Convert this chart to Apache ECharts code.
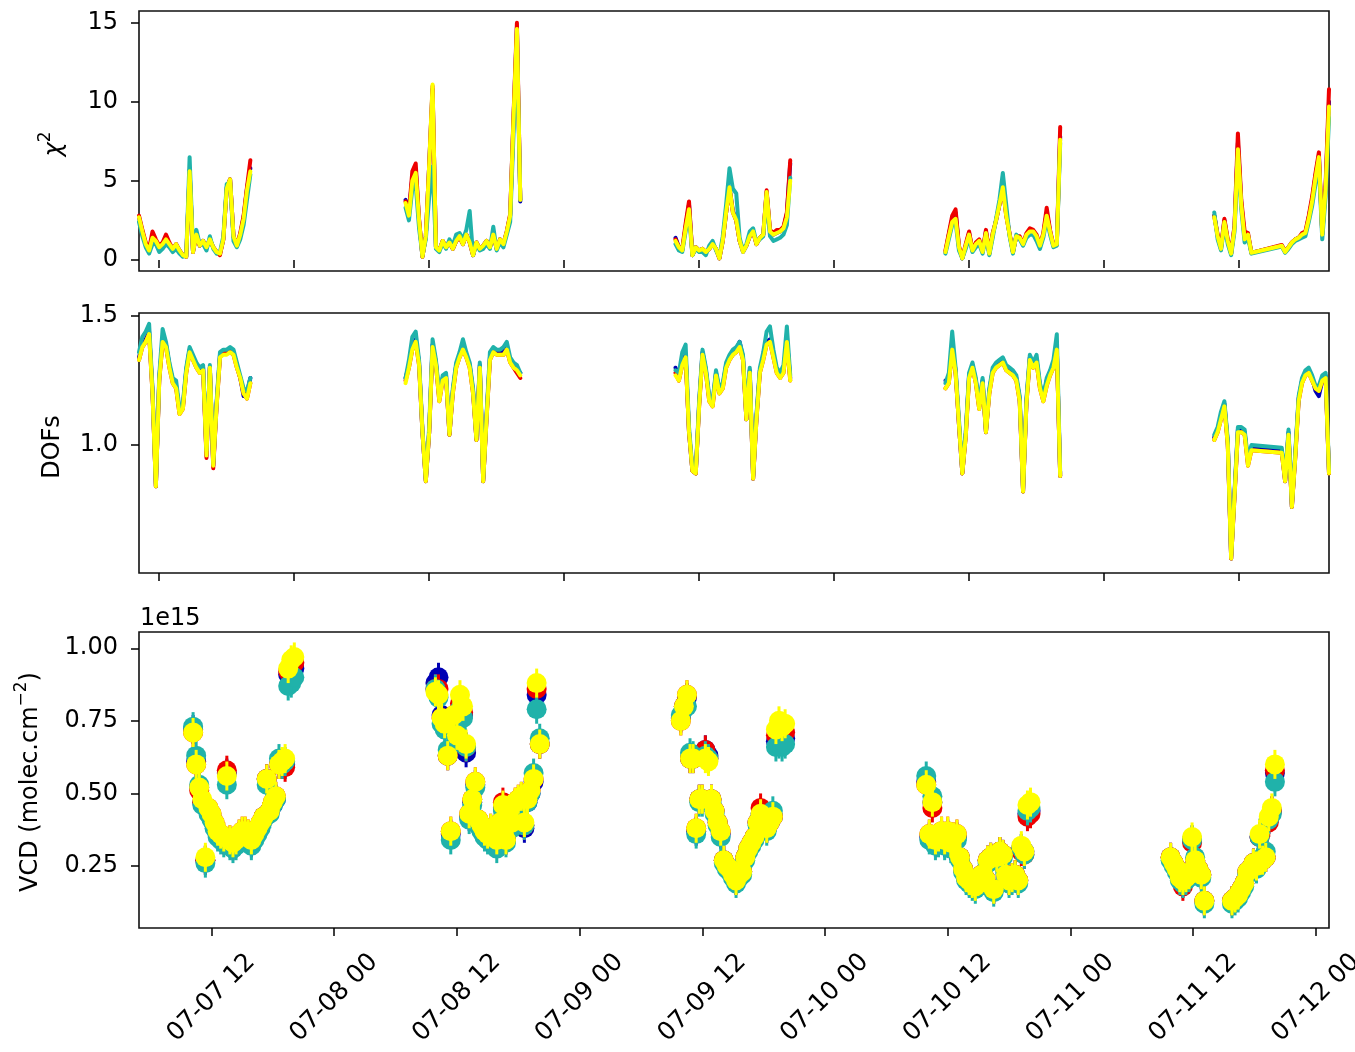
<!DOCTYPE html>
<html>
<head>
<meta charset="utf-8">
<script src="https://cdn.jsdelivr.net/npm/echarts@6/dist/echarts.min.js"></script>
<style>html,body{margin:0;padding:0;background:#fff}#c{width:1355px;height:1052px}</style>
</head>
<body>
<div id="c"></div>
<script>
// time of each retrieval, hours since 07-07 00:00
const times = [
  10.2,10.5,10.8,11.1,11.4,11.7,12.0,12.3,12.6,12.9,13.2,13.5,13.8,14.1,14.4,14.7,15.0,15.3,15.6,15.9,16.2,16.5,16.8,17.1,17.4,17.7,18.0,18.3,18.6,18.9,19.2,19.5,19.8,20.1,
  33.9,34.2,34.5,34.8,35.1,35.4,35.7,36.0,36.3,36.6,36.9,37.2,37.5,37.8,38.1,38.4,38.7,39.0,39.3,39.6,39.9,40.2,40.5,40.8,41.1,41.4,41.7,42.0,42.3,42.6,42.9,43.2,43.5,43.8,44.1,
  57.9,58.2,58.5,58.8,59.1,59.4,59.7,60.0,60.3,60.6,60.9,61.2,61.5,61.8,62.1,62.4,62.7,63.0,63.3,63.6,63.9,64.2,64.5,64.8,65.1,65.4,65.7,66.0,66.3,66.6,66.9,67.2,67.5,67.8,68.1,
  81.9,82.2,82.5,82.8,83.1,83.4,83.7,84.0,84.3,84.6,84.9,85.2,85.5,85.8,86.1,86.4,86.7,87.0,87.3,87.6,87.9,88.2,88.5,88.8,89.1,89.4,89.7,90.0,90.3,90.6,90.9,91.2,91.5,91.8,92.1,
  105.8,106.1,106.4,106.7,107.0,107.3,107.6,107.9,108.2,108.5,108.8,109.1,111.8,112.1,112.4,112.7,113.0,113.3,113.6,113.9,114.2,114.5,114.8,115.1,115.4,115.7,116.0
];

// chi-square
const chiBlue = [
  2.7,1.8,1.0,0.6,1.5,1.2,0.8,1.0,1.4,1.0,0.7,1.0,0.6,0.3,0.2,5.7,0.5,1.7,0.9,1.2,0.8,1.3,0.8,0.5,0.4,1.3,4.6,5.1,1.5,0.9,1.6,2.7,4.5,5.8,
  3.8,3.0,5.2,5.7,2.5,0.2,1.5,6.0,10.8,0.8,0.6,1.2,0.8,1.1,0.7,1.2,1.6,1.0,1.6,1.1,0.3,1.1,0.7,0.9,1.2,0.8,1.6,0.7,1.3,1.0,1.8,2.8,9.0,14.7,3.7,
  1.4,0.8,0.6,2.1,3.5,0.3,0.8,0.6,0.7,0.5,0.7,1.0,0.7,0.1,1.2,3.0,4.6,3.1,2.5,1.2,0.5,0.9,1.5,1.8,1.0,1.4,1.6,4.3,1.8,1.6,1.7,1.8,2.0,2.9,6.1,
  0.5,1.6,2.6,3.0,0.8,0.1,0.9,1.7,0.6,1.0,1.2,0.5,1.8,0.4,1.6,2.5,3.5,4.6,2.9,1.6,0.5,1.5,1.4,1.0,1.6,1.9,1.8,1.5,0.9,1.6,3.0,1.8,0.9,1.0,7.8,
  2.8,1.5,0.7,2.5,1.2,0.4,2.1,7.4,3.6,1.4,1.6,0.45,0.9,0.5,0.8,1.1,1.3,1.4,1.6,1.7,2.7,3.8,5.3,6.6,1.6,4.6,10.0
];
const chiRed = [
  2.8,1.9,1.1,0.7,1.8,1.3,0.9,1.1,1.6,1.1,0.7,1.0,0.6,0.3,0.2,5.5,0.5,1.6,0.9,1.2,0.8,1.3,0.8,0.5,0.3,1.3,4.5,5.1,1.5,0.9,1.7,2.8,4.6,6.3,
  3.7,3.0,5.6,6.1,2.6,0.2,1.5,6.0,11.0,0.8,0.6,1.2,0.8,1.1,0.7,1.2,1.4,1.0,1.6,1.1,0.3,1.1,0.7,0.9,1.2,0.8,1.6,0.7,1.3,1.0,1.8,2.9,9.2,15.0,3.8,
  1.3,0.8,0.7,2.3,3.7,0.3,0.8,0.6,0.7,0.5,0.7,1.0,0.7,0.1,1.2,3.0,4.5,3.0,2.5,1.2,0.6,0.9,1.5,1.8,1.0,1.4,1.6,4.4,1.9,1.7,1.9,1.9,2.1,3.0,6.3,
  0.6,1.7,2.8,3.2,0.9,0.1,1.0,1.8,0.6,1.1,1.3,0.5,1.9,0.4,1.7,2.5,3.5,4.6,2.8,1.7,0.5,1.5,1.5,1.0,1.7,2.0,1.9,1.6,0.9,1.7,3.3,1.9,0.9,1.0,8.4,
  2.8,1.6,0.8,2.6,1.3,0.4,2.2,8.0,3.8,1.8,1.7,0.45,0.95,0.55,0.8,1.1,1.3,1.4,1.7,1.8,2.8,4.0,5.5,6.8,1.7,4.8,10.8
];
const chiTeal = [
  2.4,1.5,0.8,0.4,1.0,1.0,0.5,0.7,1.0,0.8,0.5,0.7,0.4,0.2,0.3,6.5,0.6,1.9,1.0,1.0,0.6,1.5,0.7,0.4,0.5,1.5,4.8,4.9,1.2,0.8,1.3,2.2,3.8,5.4,
  3.3,2.5,4.5,4.8,2.0,0.3,1.3,4.0,5.9,0.7,0.5,1.1,0.7,1.3,0.9,1.6,1.7,1.3,1.9,3.1,0.3,1.0,0.6,0.7,1.0,0.7,2.1,0.6,1.1,0.8,1.6,2.4,8.0,13.5,3.8,
  1.0,0.6,0.5,1.8,2.9,0.3,0.7,0.5,0.5,0.3,0.9,1.2,0.6,0.2,1.5,3.5,5.8,4.5,4.2,1.4,0.6,1.0,1.8,2.0,1.1,1.3,1.5,4.0,1.5,1.2,1.3,1.4,1.6,2.2,5.2,
  0.4,1.3,2.2,2.4,0.6,0.1,0.7,1.4,0.5,0.8,1.0,0.4,1.5,0.3,1.4,2.6,3.8,5.5,3.5,1.5,0.4,1.6,1.3,0.9,1.4,1.6,1.6,1.2,0.7,1.4,2.6,1.6,0.8,0.9,7.4,
  3.0,1.3,0.6,2.2,1.0,0.3,1.8,6.6,3.2,1.1,1.4,0.4,0.85,0.45,0.7,1.0,1.2,1.3,1.4,1.5,2.4,3.4,4.8,6.0,1.3,4.0,9.0
];
const chiYellow = [
  2.7,1.8,1.0,0.6,1.4,1.2,0.8,1.0,1.3,1.0,0.7,1.0,0.6,0.3,0.2,5.6,0.5,1.6,0.9,1.2,0.8,1.3,0.8,0.5,0.4,1.3,4.5,5.1,1.5,0.9,1.6,2.6,4.4,5.6,
  3.6,2.8,5.0,5.5,2.5,0.2,1.5,6.0,11.1,0.8,0.6,1.2,0.8,1.1,0.7,1.2,1.5,1.0,1.6,1.1,0.3,1.1,0.7,0.9,1.2,0.8,1.6,0.7,1.3,1.0,1.8,2.8,9.0,14.6,3.8,
  1.2,0.8,0.6,2.0,3.2,0.3,0.8,0.6,0.7,0.5,0.7,1.0,0.7,0.1,1.2,3.0,4.6,3.0,2.5,1.2,0.5,0.9,1.5,1.8,1.0,1.4,1.6,4.3,1.8,1.6,1.7,1.8,2.0,2.7,5.0,
  0.5,1.5,2.4,2.6,0.8,0.1,0.9,1.6,0.6,1.0,1.2,0.5,1.7,0.4,1.6,2.5,3.5,4.6,2.8,1.6,0.5,1.5,1.4,1.0,1.6,1.8,1.8,1.5,0.9,1.6,2.8,1.8,0.9,1.0,7.6,
  2.7,1.5,0.7,2.4,1.2,0.4,2.0,7.0,3.5,1.3,1.6,0.45,0.9,0.5,0.8,1.1,1.3,1.4,1.6,1.7,2.6,3.7,5.2,6.5,1.6,4.5,9.7
];

// degrees of freedom
const dofBlue = [
  1.34,1.39,1.41,1.44,1.21,0.84,1.26,1.41,1.39,1.31,1.25,1.23,1.13,1.15,1.29,1.37,1.34,1.31,1.29,1.30,0.96,1.30,0.92,1.16,1.35,1.36,1.36,1.37,1.36,1.31,1.26,1.19,1.20,1.26,
  1.26,1.31,1.38,1.41,1.32,1.05,0.86,1.05,1.39,1.32,1.18,1.26,1.27,1.04,1.21,1.31,1.35,1.38,1.35,1.31,1.21,1.02,1.31,0.86,1.11,1.34,1.37,1.36,1.36,1.36,1.38,1.33,1.31,1.29,1.28,
  1.30,1.26,1.32,1.35,1.05,0.90,0.89,1.16,1.36,1.29,1.18,1.16,1.28,1.21,1.23,1.31,1.34,1.36,1.37,1.40,1.34,1.10,1.29,0.87,1.11,1.29,1.34,1.40,1.41,1.35,1.29,1.27,1.29,1.41,1.26,
  1.25,1.25,1.38,1.29,1.08,0.89,1.04,1.27,1.31,1.25,1.15,1.25,1.05,1.21,1.29,1.31,1.32,1.33,1.30,1.29,1.28,1.26,1.18,0.82,1.17,1.34,1.31,1.33,1.23,1.18,1.25,1.28,1.31,1.38,0.88,
  1.03,1.06,1.11,1.16,1.01,0.56,0.81,1.06,1.06,1.05,0.93,0.99,0.98,0.86,1.05,0.76,0.96,1.18,1.25,1.28,1.29,1.26,1.21,1.19,1.25,1.27,0.89
];
const dofRed = [
  1.33,1.38,1.40,1.43,1.20,0.84,1.25,1.40,1.38,1.30,1.24,1.22,1.12,1.14,1.28,1.36,1.33,1.30,1.28,1.29,0.95,1.30,0.91,1.15,1.34,1.36,1.36,1.36,1.35,1.30,1.26,1.20,1.18,1.24,
  1.25,1.30,1.37,1.40,1.31,1.05,0.86,1.05,1.38,1.31,1.17,1.25,1.26,1.04,1.20,1.30,1.34,1.37,1.34,1.30,1.20,1.02,1.30,0.86,1.10,1.33,1.36,1.35,1.35,1.35,1.37,1.32,1.30,1.28,1.26,
  1.28,1.25,1.31,1.34,1.05,0.90,0.89,1.15,1.35,1.28,1.17,1.15,1.27,1.20,1.22,1.30,1.33,1.35,1.36,1.38,1.33,1.10,1.28,0.87,1.10,1.28,1.33,1.39,1.40,1.34,1.28,1.26,1.28,1.40,1.25,
  1.22,1.24,1.37,1.28,1.08,0.89,1.03,1.26,1.30,1.24,1.14,1.24,1.05,1.20,1.28,1.30,1.31,1.32,1.29,1.28,1.27,1.25,1.17,0.82,1.16,1.33,1.30,1.32,1.22,1.17,1.23,1.27,1.30,1.37,0.88,
  1.02,1.05,1.10,1.15,1.00,0.56,0.80,1.05,1.05,1.04,0.92,0.98,0.97,0.86,1.04,0.76,0.95,1.17,1.24,1.27,1.28,1.25,1.22,1.21,1.25,1.26,0.89
];
const dofTeal = [
  1.36,1.42,1.44,1.47,1.22,0.85,1.27,1.45,1.40,1.32,1.26,1.25,1.14,1.16,1.30,1.38,1.35,1.32,1.30,1.31,0.98,1.31,0.93,1.17,1.36,1.37,1.37,1.38,1.37,1.32,1.27,1.22,1.21,1.26,
  1.26,1.33,1.42,1.44,1.33,1.06,0.87,1.07,1.41,1.33,1.19,1.27,1.28,1.05,1.22,1.32,1.36,1.41,1.36,1.32,1.22,1.03,1.32,0.87,1.12,1.36,1.38,1.37,1.37,1.38,1.40,1.34,1.32,1.31,1.28,
  1.29,1.28,1.36,1.39,1.07,0.91,0.90,1.17,1.37,1.30,1.19,1.17,1.29,1.22,1.24,1.32,1.35,1.37,1.38,1.40,1.35,1.12,1.30,0.88,1.12,1.30,1.36,1.44,1.46,1.37,1.30,1.28,1.31,1.46,1.27,
  1.24,1.28,1.44,1.30,1.10,0.90,1.05,1.28,1.32,1.26,1.16,1.26,1.06,1.22,1.30,1.32,1.33,1.34,1.31,1.30,1.29,1.27,1.19,0.83,1.18,1.35,1.32,1.35,1.24,1.19,1.26,1.29,1.33,1.43,0.89,
  1.04,1.07,1.13,1.17,1.02,0.57,0.82,1.07,1.07,1.06,0.94,1.00,0.99,0.87,1.06,0.77,0.97,1.19,1.26,1.29,1.30,1.27,1.23,1.23,1.27,1.28,0.90
];
const dofYellow = [
  1.33,1.38,1.40,1.43,1.20,0.84,1.25,1.40,1.38,1.30,1.24,1.22,1.12,1.14,1.28,1.36,1.33,1.30,1.28,1.29,0.96,1.30,0.92,1.15,1.34,1.35,1.35,1.36,1.35,1.30,1.26,1.20,1.18,1.24,
  1.24,1.30,1.37,1.40,1.31,1.05,0.86,1.05,1.38,1.31,1.17,1.25,1.26,1.04,1.20,1.30,1.34,1.37,1.34,1.30,1.20,1.02,1.30,0.86,1.10,1.33,1.36,1.35,1.35,1.35,1.37,1.32,1.30,1.29,1.27,
  1.27,1.25,1.31,1.34,1.05,0.90,0.89,1.15,1.35,1.28,1.17,1.15,1.27,1.20,1.22,1.30,1.33,1.35,1.36,1.38,1.33,1.10,1.28,0.87,1.10,1.28,1.33,1.39,1.40,1.34,1.28,1.26,1.28,1.40,1.25,
  1.22,1.24,1.37,1.28,1.08,0.89,1.03,1.26,1.30,1.24,1.14,1.24,1.05,1.20,1.28,1.30,1.31,1.32,1.29,1.28,1.27,1.25,1.17,0.82,1.16,1.33,1.30,1.32,1.22,1.17,1.23,1.27,1.30,1.37,0.88,
  1.02,1.05,1.10,1.15,1.00,0.56,0.80,1.05,1.05,1.04,0.92,0.98,0.97,0.86,1.04,0.76,0.95,1.17,1.24,1.27,1.28,1.25,1.22,1.21,1.25,1.26,0.89
];

// vertical column density, units of 1e15 molec.cm-2
const vcdBlue = [
  0.72,0.61,0.52,0.47,0.27,0.44,0.42,0.39,0.36,0.35,0.34,0.57,0.33,0.32,0.33,0.35,0.36,0.36,0.35,0.33,0.35,0.37,0.39,0.42,0.55,0.44,0.46,0.48,0.60,0.60,0.60,0.91,0.92,0.93,
  0.88,0.90,0.77,0.74,0.63,0.36,0.76,0.70,0.79,0.77,0.64,0.42,0.47,0.53,0.40,0.38,0.36,0.35,0.37,0.36,0.33,0.39,0.45,0.34,0.41,0.39,0.46,0.47,0.48,0.38,0.47,0.50,0.54,0.84,0.67,
  0.76,0.80,0.83,0.62,0.62,0.37,0.48,0.48,0.65,0.63,0.48,0.44,0.40,0.36,0.27,0.25,0.24,0.22,0.20,0.22,0.23,0.28,0.31,0.33,0.35,0.40,0.43,0.40,0.38,0.40,0.42,0.68,0.69,0.68,0.69,
  0.54,0.35,0.47,0.33,0.34,0.36,0.33,0.36,0.32,0.34,0.35,0.28,0.24,0.21,0.20,0.19,0.18,0.20,0.22,0.21,0.27,0.28,0.17,0.28,0.30,0.29,0.22,0.20,0.21,0.22,0.20,0.31,0.30,0.43,0.44,
  0.28,0.26,0.24,0.21,0.19,0.21,0.22,0.34,0.27,0.24,0.22,0.13,0.13,0.14,0.15,0.17,0.19,0.23,0.24,0.26,0.25,0.35,0.27,0.28,0.41,0.44,0.57
];
const vcdRed = [
  0.71,0.60,0.51,0.47,0.27,0.45,0.43,0.40,0.37,0.36,0.35,0.58,0.34,0.33,0.34,0.36,0.37,0.37,0.36,0.34,0.36,0.38,0.40,0.42,0.55,0.44,0.47,0.49,0.60,0.60,0.59,0.92,0.94,0.95,
  0.86,0.86,0.76,0.74,0.63,0.37,0.77,0.70,0.81,0.78,0.66,0.43,0.48,0.54,0.41,0.39,0.37,0.36,0.38,0.37,0.34,0.40,0.47,0.34,0.42,0.40,0.47,0.48,0.49,0.39,0.48,0.51,0.55,0.86,0.67,
  0.75,0.80,0.84,0.62,0.62,0.38,0.48,0.48,0.65,0.62,0.48,0.44,0.40,0.37,0.27,0.25,0.24,0.22,0.20,0.22,0.23,0.28,0.31,0.33,0.35,0.40,0.45,0.40,0.38,0.40,0.42,0.70,0.71,0.70,0.71,
  0.53,0.36,0.45,0.34,0.35,0.37,0.34,0.37,0.33,0.35,0.36,0.28,0.24,0.21,0.20,0.19,0.18,0.20,0.22,0.21,0.27,0.28,0.17,0.28,0.30,0.29,0.22,0.20,0.21,0.22,0.20,0.30,0.29,0.42,0.43,
  0.28,0.26,0.24,0.21,0.18,0.21,0.22,0.33,0.27,0.24,0.22,0.13,0.13,0.14,0.15,0.17,0.19,0.23,0.24,0.26,0.25,0.35,0.27,0.28,0.40,0.44,0.58
];
const vcdTeal = [
  0.73,0.63,0.53,0.46,0.26,0.43,0.41,0.38,0.35,0.34,0.33,0.53,0.32,0.31,0.32,0.34,0.35,0.35,0.34,0.32,0.34,0.36,0.38,0.41,0.53,0.43,0.46,0.48,0.62,0.60,0.61,0.87,0.88,0.90,
  0.86,0.83,0.74,0.72,0.65,0.34,0.74,0.72,0.79,0.76,0.66,0.41,0.46,0.52,0.39,0.37,0.35,0.34,0.36,0.35,0.31,0.38,0.44,0.33,0.40,0.38,0.45,0.46,0.48,0.39,0.47,0.50,0.57,0.79,0.69,
  0.77,0.79,0.80,0.64,0.63,0.36,0.47,0.47,0.63,0.62,0.47,0.43,0.39,0.35,0.26,0.24,0.23,0.21,0.19,0.21,0.22,0.27,0.30,0.32,0.34,0.39,0.42,0.39,0.37,0.41,0.44,0.66,0.67,0.66,0.67,
  0.56,0.34,0.49,0.32,0.33,0.35,0.32,0.35,0.31,0.33,0.34,0.27,0.23,0.20,0.19,0.18,0.17,0.19,0.21,0.20,0.26,0.27,0.16,0.27,0.29,0.28,0.21,0.19,0.20,0.21,0.19,0.31,0.29,0.44,0.45,
  0.27,0.25,0.23,0.20,0.19,0.20,0.21,0.34,0.28,0.23,0.21,0.12,0.12,0.13,0.14,0.16,0.18,0.22,0.23,0.25,0.24,0.35,0.28,0.30,0.41,0.43,0.54
];
const vcdYellow = [
  0.71,0.60,0.52,0.48,0.28,0.45,0.43,0.40,0.37,0.36,0.35,0.56,0.34,0.33,0.34,0.36,0.37,0.37,0.36,0.34,0.36,0.38,0.40,0.42,0.55,0.44,0.47,0.49,0.60,0.61,0.62,0.93,0.96,0.97,
  0.85,0.84,0.76,0.74,0.63,0.37,0.77,0.70,0.84,0.80,0.67,0.43,0.48,0.54,0.41,0.39,0.37,0.36,0.38,0.37,0.34,0.40,0.46,0.34,0.42,0.40,0.47,0.48,0.49,0.40,0.48,0.51,0.55,0.88,0.67,
  0.75,0.80,0.84,0.62,0.62,0.38,0.48,0.48,0.62,0.61,0.48,0.44,0.40,0.37,0.27,0.25,0.24,0.22,0.20,0.22,0.23,0.28,0.31,0.33,0.35,0.40,0.43,0.40,0.38,0.40,0.42,0.72,0.75,0.73,0.74,
  0.53,0.36,0.47,0.34,0.35,0.37,0.34,0.37,0.33,0.35,0.36,0.28,0.24,0.21,0.20,0.19,0.18,0.20,0.22,0.21,0.27,0.28,0.17,0.28,0.30,0.29,0.22,0.20,0.21,0.22,0.20,0.32,0.30,0.46,0.47,
  0.28,0.26,0.24,0.21,0.20,0.21,0.22,0.35,0.27,0.24,0.22,0.13,0.13,0.14,0.15,0.17,0.19,0.23,0.24,0.26,0.25,0.36,0.27,0.28,0.42,0.45,0.60
];
const vcdErr = 0.05; // half-length of the error bars

// ticks
const xTicksTop = [12, 24, 36, 48, 60, 72, 84, 96, 108];
const xTicksBottom = [12, 24, 36, 48, 60, 72, 84, 96, 108, 120];
const xTickLabels = ['07-07 12','07-08 00','07-08 12','07-09 00','07-09 12','07-10 00','07-10 12','07-11 00','07-11 12','07-12 00'];
const chiTicks = [0, 5, 10, 15];
const dofTicks = [1.0, 1.5];
const vcdTicks = [0.25, 0.5, 0.75, 1.0];

const COLORS = { blue: '#0000b4', red: '#ee0000', teal: '#20b2aa', yellow: '#ffff00' };
const FONT = 'DejaVu Sans';

function withBreaks(vals) {
  const out = [];
  for (let i = 0; i < times.length; i++) {
    if (i > 0 && times[i] - times[i - 1] > 6) out.push([times[i - 1] + 0.1, '-']);
    out.push([times[i], vals[i]]);
  }
  return out;
}
function lineSeries(vals, color, idx) {
  return {
    type: 'line', xAxisIndex: idx, yAxisIndex: idx, data: withBreaks(vals),
    showSymbol: false, symbol: 'none', connectNulls: false, silent: true,
    lineStyle: { color: color, width: 4, join: 'round', cap: 'round' }
  };
}
function vcdSeries(vals, color) {
  return {
    type: 'custom', xAxisIndex: 2, yAxisIndex: 2, silent: true,
    encode: { x: 0, y: 1 },
    data: times.map((t, i) => [t, vals[i]]),
    renderItem: function (params, api) {
      const x = api.value(0), y = api.value(1);
      const c = api.coord([x, y]);
      const top = api.coord([x, y + vcdErr]);
      const bot = api.coord([x, y - vcdErr]);
      return {
        type: 'group',
        children: [
          { type: 'line', shape: { x1: c[0], y1: top[1], x2: c[0], y2: bot[1] }, style: { stroke: color, lineWidth: 3 } },
          { type: 'circle', shape: { cx: c[0], cy: c[1], r: 10 }, style: { fill: color } }
        ]
      };
    }
  };
}

const tickStyle = { show: true, length: 8, inside: false, lineStyle: { color: '#000', width: 1.5 } };
const labelStyle = { fontFamily: FONT, fontSize: 24, color: '#000' };
function gridDef(top, height) {
  return { left: 139, top: top, width: 1190, height: height, show: true, borderColor: '#111', borderWidth: 1.6,
           containLabel: false, outerBoundsMode: 'none' };
}
function xAxisTop(idx) {
  return {
    gridIndex: idx, type: 'value', min: 10.2, max: 116.0,
    axisLine: { show: false }, splitLine: { show: false },
    axisTick: Object.assign({ customValues: xTicksTop }, tickStyle),
    axisLabel: { show: false }
  };
}
function yAxisDef(idx, min, max, ticks, digits) {
  return {
    gridIndex: idx, type: 'value', min: min, max: max,
    axisLine: { show: false }, splitLine: { show: false },
    axisTick: Object.assign({ customValues: ticks }, tickStyle),
    axisLabel: Object.assign({ customValues: ticks, margin: 21, formatter: v => Number(v).toFixed(digits) }, labelStyle)
  };
}

const option = {
  animation: false,
  backgroundColor: '#fff',
  grid: [gridDef(11, 260), gridDef(313, 260), gridDef(632, 296)],
  xAxis: [
    xAxisTop(0), xAxisTop(1),
    {
      gridIndex: 2, type: 'value', min: 4.91, max: 121.29,
      axisLine: { show: false }, splitLine: { show: false },
      axisTick: Object.assign({ customValues: xTicksBottom }, tickStyle),
      axisLabel: Object.assign({
        customValues: xTicksBottom, rotate: 45, align: 'center', verticalAlign: 'middle', margin: 70,
        formatter: v => xTickLabels[xTicksBottom.indexOf(Math.round(v))]
      }, labelStyle, { fontSize: 25 })
    }
  ],
  yAxis: [
    yAxisDef(0, -0.70, 15.74, chiTicks, 0),
    yAxisDef(1, 0.504, 1.512, dofTicks, 1),
    yAxisDef(2, 0.0365, 1.056, vcdTicks, 2)
  ],
  graphic: [
    { type: 'text', x: 55, y: 144, rotation: Math.PI / 2, silent: true,
      style: { text: '{m|χ}{s|2}', align: 'center', verticalAlign: 'middle',
        rich: { m: { fontFamily: FONT, fontSize: 24, fontStyle: 'italic', fill: '#000', lineHeight: 36, verticalAlign: 'middle' },
                s: { fontFamily: FONT, fontSize: 17, fill: '#000', lineHeight: 14, verticalAlign: 'top' } } } },
    { type: 'text', x: 53, y: 447, rotation: Math.PI / 2, silent: true,
      style: { text: 'DOFs', font: '24px "DejaVu Sans"', fill: '#000', align: 'center', verticalAlign: 'middle' } },
    { type: 'text', x: 31, y: 782, rotation: Math.PI / 2, silent: true,
      style: { text: '{m|VCD (molec.cm}{s|−2}{m|)}', align: 'center', verticalAlign: 'middle',
        rich: { m: { fontFamily: FONT, fontSize: 24, fill: '#000', lineHeight: 36, verticalAlign: 'middle' },
                s: { fontFamily: FONT, fontSize: 17, fill: '#000', lineHeight: 16, verticalAlign: 'top' } } } },
    { type: 'text', x: 140, y: 619, silent: true,
      style: { text: '1e15', font: '24px "DejaVu Sans"', fill: '#000', align: 'left', verticalAlign: 'middle' } }
  ],
  series: [
    lineSeries(chiBlue, COLORS.blue, 0), lineSeries(chiRed, COLORS.red, 0),
    lineSeries(chiTeal, COLORS.teal, 0), lineSeries(chiYellow, COLORS.yellow, 0),
    lineSeries(dofBlue, COLORS.blue, 1), lineSeries(dofRed, COLORS.red, 1),
    lineSeries(dofTeal, COLORS.teal, 1), lineSeries(dofYellow, COLORS.yellow, 1),
    vcdSeries(vcdBlue, COLORS.blue), vcdSeries(vcdRed, COLORS.red),
    vcdSeries(vcdTeal, COLORS.teal), vcdSeries(vcdYellow, COLORS.yellow)
  ]
};
const chart = echarts.init(document.getElementById('c'), null, { renderer: 'canvas' });
chart.setOption(option);
</script>
</body>
</html>
